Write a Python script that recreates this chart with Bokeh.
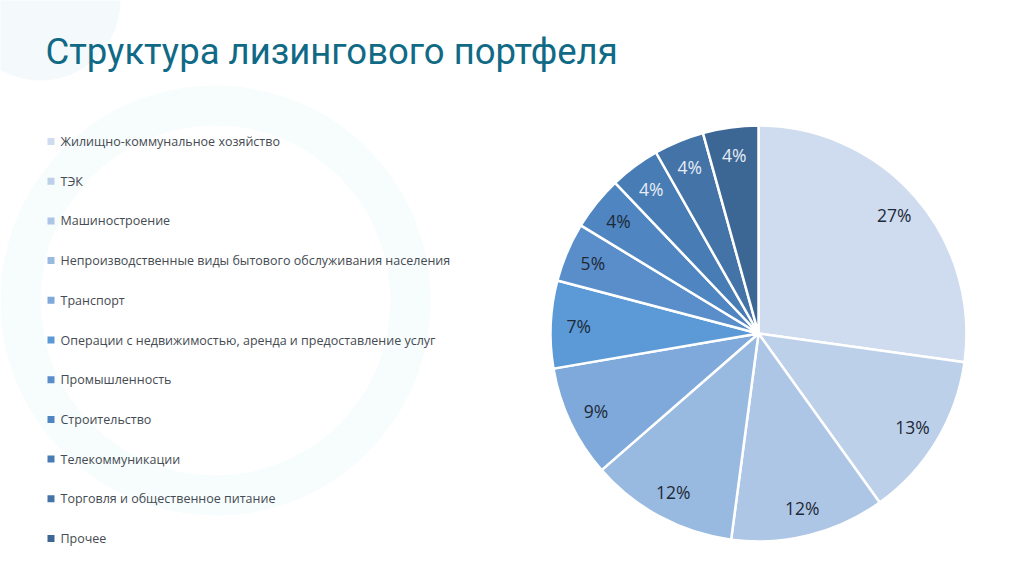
import math
from bokeh.plotting import figure
from bokeh.models import Range1d, ColumnDataSource
from bokeh.core.properties import value
from bokeh.embed import file_html
from bokeh.resources import INLINE

title = "Структура лизингового портфеля"
categories = [
    "Жилищно-коммунальное хозяйство",
    "ТЭК",
    "Машиностроение",
    "Непроизводственные виды бытового обслуживания населения",
    "Транспорт",
    "Операции с недвижимостью, аренда и предоставление услуг",
    "Промышленность",
    "Строительство",
    "Телекоммуникации",
    "Торговля и общественное питание",
    "Прочее",
]
shares = [27.2, 12.9, 12.0, 11.5, 8.7, 6.8, 4.6, 4.2, 3.9, 3.9, 4.3]
labels = ["27%", "13%", "12%", "12%", "9%", "7%", "5%", "4%", "4%", "4%", "4%"]
colors = ["#CFDCEF", "#BDD0EA", "#AEC6E6", "#98B9E0", "#7EA9DA", "#5B9AD6",
          "#5A8ECB", "#4F85C0", "#487CB4", "#4373A7", "#3C6795"]
label_colors = ["#1E2A38"] * 8 + ["#E6EDF5"] * 3

W, H = 1008, 561
p = figure(width=W, height=H, output_backend="svg", toolbar_location=None,
           x_range=Range1d(0, W), y_range=Range1d(8, 8 + H),
           min_border=0, outline_line_color=None, background_fill_color="white",
           border_fill_color="white")
p.axis.visible = False
p.grid.visible = False

def Y(y):  # screenshot pixel row -> data y
    return 569 - y

# faint watermark
p.annulus(x=[215], y=[Y(300)], inner_radius=175, outer_radius=215,
          inner_radius_units="screen", outer_radius_units="screen",
          fill_color="#F7FCFD", line_color=None)
p.circle(x=[40], y=[Y(0)], radius=80, radius_units="screen",
         fill_color="#F4FAFC", line_color=None)

# pie
cx, cy, R = 758, Y(333), 208
total = sum(shares)
starts, ends, lx, ly = [], [], [], []
cum = 0
for s in shares:
    a0 = math.pi / 2 - 2 * math.pi * cum / total
    cum += s
    a1 = math.pi / 2 - 2 * math.pi * cum / total
    starts.append(a0)
    ends.append(a1)
    am = (a0 + a1) / 2
    lx.append(cx + 180 * math.cos(am))
    ly.append(cy + 180 * math.sin(am))

src = ColumnDataSource(dict(start=starts, end=ends, color=colors,
                            lx=lx, ly=ly, lab=labels, lc=label_colors))
p.wedge(x=cx, y=cy, radius=R, radius_units="screen", start_angle="start",
        end_angle="end", direction="clock", fill_color="color",
        line_color="white", line_width=2.5, source=src)
p.text(x="lx", y="ly", text="lab", text_color="lc", text_align="center",
       text_baseline="middle", text_font=value("Open Sans"),
       text_font_size="17.5px", source=src)

# legend
ys = [Y(141 + i * 39.7) for i in range(len(categories))]
p.scatter(x=[50.5] * len(categories), y=ys, marker="square", size=7,
          fill_color=colors, line_color=None)
p.text(x=[60] * len(categories), y=ys, text=categories, text_color="#454B52",
       text_baseline="middle", text_font=value("Open Sans"),
       text_font_size="12.5px")

# title
p.text(x=[45], y=[Y(51)], text=[title], text_color="#106A86",
       text_baseline="middle", text_font=value("Roboto"),
       text_font_size="36.5px")

open("out.html", "w").write(file_html(p, INLINE))
